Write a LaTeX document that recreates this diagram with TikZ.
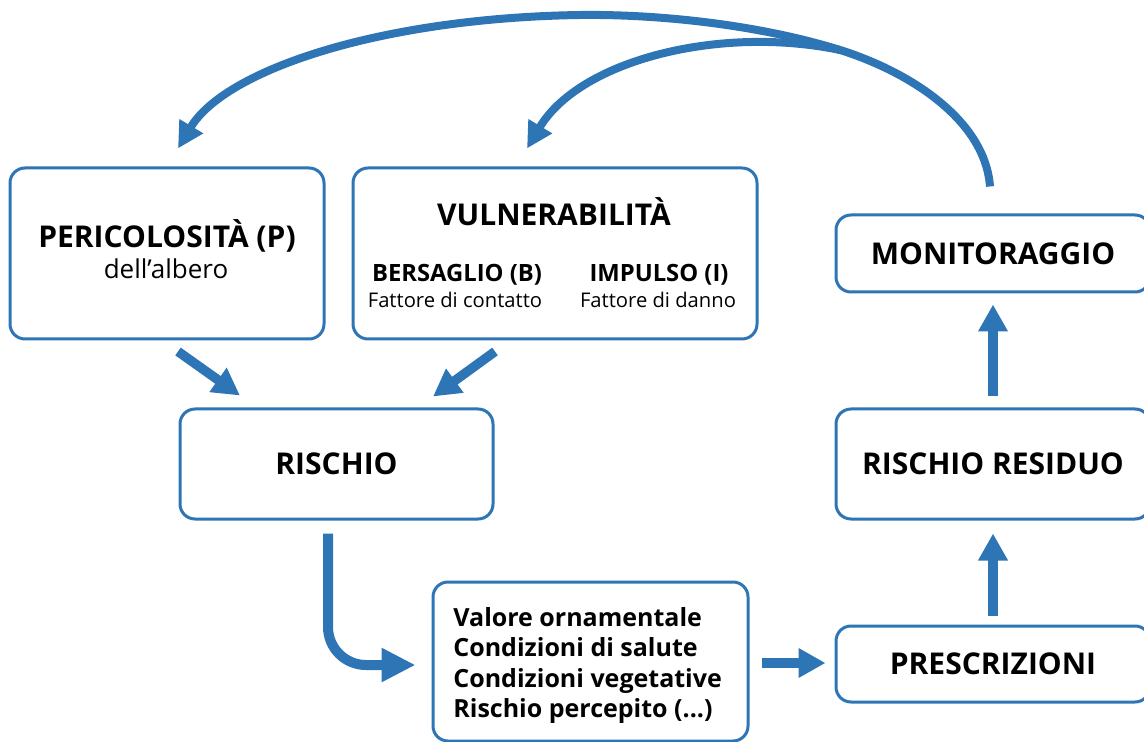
\documentclass[tikz,border=0pt]{standalone}
\usepackage{fontspec}
\setmainfont{Open Sans}
\usetikzlibrary{arrows.meta,calc}
\definecolor{flowblue}{RGB}{46,117,182}
\begin{document}
\begin{tikzpicture}[x=0.5pt,y=-0.5pt,
  box/.style={draw=flowblue, line width=1.5pt, rounded corners=7.5pt, fill=white, inner sep=0pt},
  flow/.style={draw=flowblue, line width=4.75pt, -{Triangle[length=13.5pt,width=14pt]}},
  bigflow/.style={draw=flowblue, line width=5pt, rounded corners=19pt, -{Triangle[length=17pt,width=16pt]}},
  loopflow/.style={draw=flowblue, line width=4pt, -{Triangle[length=13pt,width=13pt]}},
  ttl/.style={font=\bfseries\fontsize{15}{18}\selectfont},
  sub/.style={font=\bfseries\fontsize{11.9}{14}\selectfont},
  small/.style={font=\fontsize{10.1}{12}\selectfont},
  lst/.style={font=\bfseries\fontsize{12.5}{15.2}\selectfont, align=left, anchor=north west, inner sep=0pt}
]
\useasboundingbox (0,0) rectangle (1144,742);
\clip (0,0) rectangle (1144,742);

% boxes
\node[box, minimum width=157pt, minimum height=85.5pt] (p) at (167,253.5) {};
\node[box, minimum width=202pt, minimum height=85.5pt] (v) at (555,253.5) {};
\node[box, minimum width=156.5pt, minimum height=55pt, ttl] (r) at (336.5,464) {RISCHIO};
\node[box, minimum width=157.5pt, minimum height=79.5pt] (c) at (590.5,661.5) {};
\node[box, minimum width=157pt, minimum height=38.5pt, ttl] (mon) at (993,253.5) {MONITORAGGIO};
\node[box, minimum width=157pt, minimum height=55pt, ttl] (rr) at (993,464) {RISCHIO RESIDUO};
\node[box, minimum width=157pt, minimum height=38pt, ttl] (pr) at (993,664) {PRESCRIZIONI};

% texts
\node[ttl, anchor=base] (pt) at (167,248) {PERICOLOSITÀ (P)};
\node[font=\fontsize{13}{15}\selectfont, anchor=base] (ps) at (166,279) {dell’albero};
\node[ttl, anchor=base] (vt) at (554,226) {VULNERABILITÀ};
\node[sub, anchor=base] (bt) at (457,282) {BERSAGLIO (B)};
\node[small, anchor=base] (bs) at (455,308) {Fattore di contatto};
\node[sub, anchor=base] (it) at (659,282) {IMPULSO (I)};
\node[small, anchor=base] (is) at (658,308) {Fattore di danno};
\node[lst] (cl) at (453,607) {Valore ornamentale\\Condizioni di salute\\Condizioni vegetative\\Rischio percepito (...)};

% arrows
\draw[flow] ($(p.south)+(11,11)$) -- ($(r.north)+(-96.5,-12)$);
\draw[flow] ($(v.south)+(-60,11)$) -- ($(r.north)+(96.5,-11)$);
\draw[bigflow] ($(r.south)+(-8.5,13)$) |- ($(c.west)+(-16,3.5)$);
\draw[flow] ($(c.east)+(12,1.5)$) -- ($(pr.west)+(-9,-1)$);
\draw[flow] ($(pr.north)+(0,-9)$) -- ($(rr.south)+(0,13)$);
\draw[flow] ($(rr.north)+(0,-11)$) -- ($(mon.south)+(0,11)$);

\coordinate (split) at (840,50);
\draw[loopflow] ($(mon.north)+(-3,-27)$) .. controls (985,120) and (910,72) .. (split)
  .. controls (760,25) and (660,14) .. (580,15)
  .. controls (380,18) and (225,70) .. ($(p.north)+(11,-18)$);
\draw[loopflow] (split) .. controls (720,25) and (580,60) .. ($(v.north)+(-28,-18)$);
\end{tikzpicture}
\end{document}
